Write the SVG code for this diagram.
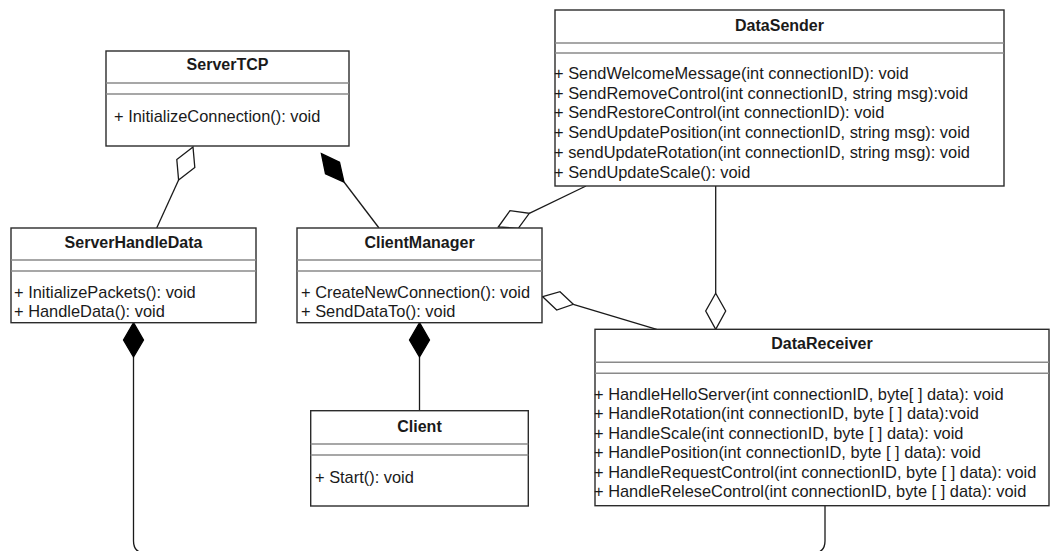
<svg xmlns="http://www.w3.org/2000/svg" width="1050" height="551" viewBox="0 0 1050 551">
<style>
.box{fill:#ffffff;stroke:#2b2b2b;stroke-width:1.4}
.sep{stroke:#8a8a8a;stroke-width:1.4}
.title{font-family:"Liberation Sans",Arial,Helvetica,sans-serif;font-size:16px;font-weight:bold;fill:#1a1a1a;text-anchor:middle}
.m{font-family:"Liberation Sans",Arial,Helvetica,sans-serif;font-size:16.4px;fill:#1a1a1a}
.ln{fill:none;stroke:#1a1a1a;stroke-width:1.3}
.open{fill:#ffffff;stroke:#1a1a1a;stroke-width:1.3}
.fill{fill:#000000;stroke:#000000;stroke-width:1.3}
</style>
<rect width="1050" height="551" fill="#ffffff"/>
<g id="connectors">
  <path class="ln" d="M178.6,180 L156.7,228"/>
  <polygon class="open" points="193,147 194.8,167.4 178.6,180 176.8,159.6"/>
  <path class="ln" d="M344,182 L379,228"/>
  <polygon class="fill" points="321.4,153.7 339.5,162.3 344,182 325.5,173.7"/>
  <path class="ln" d="M529.3,213.3 L586,186"/>
  <polygon class="open" points="498.3,227 510,210.7 529.3,213.3 518.3,228.3"/>
  <path class="ln" d="M573.3,304.3 L656.7,329.3"/>
  <polygon class="open" points="542.7,296.7 560,291.7 573.3,304.3 556.7,310"/>
  <path class="ln" d="M715.7,186 L715.7,293.3"/>
  <polygon class="open" points="715.7,293.3 725.7,311 715.7,329.3 705.7,311"/>
  <path class="ln" d="M419.5,357 L419.5,410.7"/>
  <polygon class="fill" points="419.5,322.7 429.5,340 419.5,357 409.5,340"/>
  <path class="ln" d="M133.5,357 V541 Q133.5,553 145.5,553 H813 Q825,553 825,541 V505.7"/>
  <polygon class="fill" points="133.5,322.7 143.5,340 133.5,357 123.5,340"/>
</g>
<g id="ServerTCP">
  <rect class="box" x="106" y="51" width="243" height="95"/>
  <line class="sep" x1="106" y1="83" x2="349" y2="83"/>
  <line class="sep" x1="106" y1="94" x2="349" y2="94"/>
  <text class="title" x="227.5" y="70">ServerTCP</text>
  <text class="m" x="114" y="121.5">+ InitializeConnection(): void</text>
</g>
<g id="DataSender">
  <rect class="box" x="555" y="10" width="449" height="176"/>
  <line class="sep" x1="555" y1="43" x2="1004" y2="43"/>
  <line class="sep" x1="555" y1="53" x2="1004" y2="53"/>
  <text class="title" x="779.5" y="31">DataSender</text>
  <text class="m" x="554" y="79">+ SendWelcomeMessage(int connectionID): void</text>
  <text class="m" x="554" y="98.8">+ SendRemoveControl(int connectionID, string msg):void</text>
  <text class="m" x="554" y="118.4">+ SendRestoreControl(int connectionID): void</text>
  <text class="m" x="554" y="138.2">+ SendUpdatePosition(int connectionID, string msg): void</text>
  <text class="m" x="554" y="158">+ sendUpdateRotation(int connectionID, string msg): void</text>
  <text class="m" x="554" y="177.8">+ SendUpdateScale(): void</text>
</g>
<g id="ServerHandleData">
  <rect class="box" x="11" y="228" width="245" height="94.7"/>
  <line class="sep" x1="11" y1="260" x2="256" y2="260"/>
  <line class="sep" x1="11" y1="271" x2="256" y2="271"/>
  <text class="title" x="133.5" y="247.5">ServerHandleData</text>
  <text class="m" x="14" y="297.5">+ InitializePackets(): void</text>
  <text class="m" x="14" y="316.5">+ HandleData(): void</text>
</g>
<g id="ClientManager">
  <rect class="box" x="297" y="228" width="245" height="94.7"/>
  <line class="sep" x1="297" y1="260" x2="542" y2="260"/>
  <line class="sep" x1="297" y1="271" x2="542" y2="271"/>
  <text class="title" x="419.5" y="247.5">ClientManager</text>
  <text class="m" x="301" y="297.5">+ CreateNewConnection(): void</text>
  <text class="m" x="301" y="316.5">+ SendDataTo(): void</text>
</g>
<g id="Client">
  <rect class="box" x="310.7" y="410.7" width="217.6" height="95.3"/>
  <line class="sep" x1="310.7" y1="444" x2="528.3" y2="444"/>
  <line class="sep" x1="310.7" y1="455" x2="528.3" y2="455"/>
  <text class="title" x="419.5" y="432">Client</text>
  <text class="m" x="315" y="482.5">+ Start(): void</text>
</g>
<g id="DataReceiver">
  <rect class="box" x="595" y="329.3" width="454" height="176.4"/>
  <line class="sep" x1="595" y1="362.3" x2="1049" y2="362.3"/>
  <line class="sep" x1="595" y1="373.3" x2="1049" y2="373.3"/>
  <text class="title" x="822" y="349">DataReceiver</text>
  <text class="m" x="594" y="399.7">+ HandleHelloServer(int connectionID, byte[ ] data): void</text>
  <text class="m" x="594" y="419.2">+ HandleRotation(int connectionID, byte [ ] data):void</text>
  <text class="m" x="594" y="438.7">+ HandleScale(int connectionID, byte [ ] data): void</text>
  <text class="m" x="594" y="458.2">+ HandlePosition(int connectionID, byte [ ] data): void</text>
  <text class="m" x="594" y="477.7">+ HandleRequestControl(int connectionID, byte [ ] data): void</text>
  <text class="m" x="594" y="497.2">+ HandleReleseControl(int connectionID, byte [ ] data): void</text>
</g>
</svg>
